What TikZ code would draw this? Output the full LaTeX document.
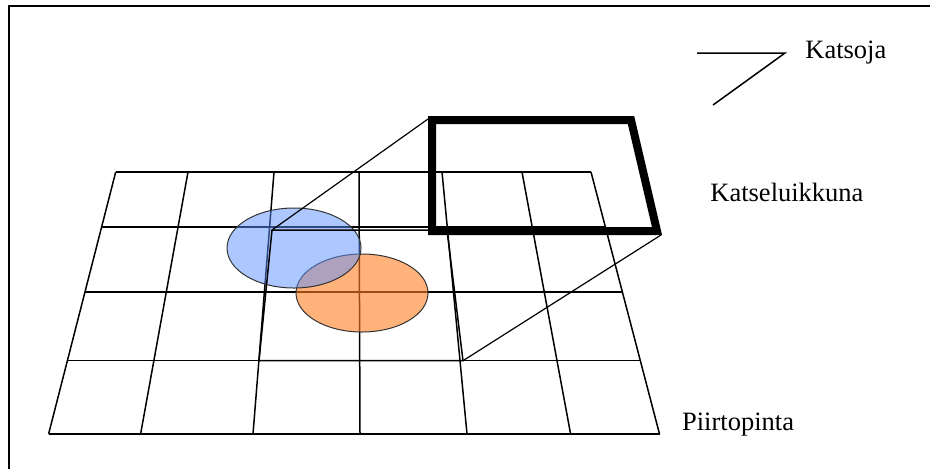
\documentclass[tikz,border=0pt]{standalone}
\usepackage{fontspec}
\setmainfont{Liberation Serif}
\usetikzlibrary{calc}
\definecolor{blob}{HTML}{5B91FF}
\definecolor{ember}{HTML}{FF7F21}

\begin{document}
\begin{tikzpicture}[
  x=0.5pt, y=-0.5pt,
  font=\fontsize{13.25}{16}\selectfont,
  frame/.style={line width=1pt},
  grid/.style={line width=0.75pt},
  win/.style={line width=4pt, miter limit=10},
  proj/.style={line width=0.6pt},
  lbl/.style={anchor=base west, inner sep=0pt},
  blobe/.style={fill=blob, fill opacity=0.5, draw=black!80, line width=0.5pt},
  embere/.style={fill=ember, fill opacity=0.6, draw=black!80, line width=0.5pt}
]
% --- page and frame (only left and top edges fall inside) ---
\useasboundingbox (0,0) rectangle (930,468);
\clip (0,0) rectangle (930,468);
\draw[frame] (8.5,5.7) rectangle (945,480);

% --- drawing surface: corners of the grid ---
\coordinate (TL) at (115.7,172);
\coordinate (TR) at (591,172);
\coordinate (BL) at (48.6,434);
\coordinate (BR) at (659.5,434);

% --- grid lines ---
\foreach \xt/\xb in {115.7/48.6, 188/140.6, 274/253, 359/360, 442/467,
                     522/570.6, 591/659.5}
  \draw[grid] (\xt,172) -- (\xb,434);
\foreach \t in {0, 0.21, 0.458, 0.72, 1}
  \draw[grid] ($(TL)!\t!(BL)$) -- ($(TR)!\t!(BR)$);

% --- shapes on the surface ---
\draw[embere] (362,293) ellipse [x radius=66, y radius=39];
\draw[blobe]  (294,248) ellipse [x radius=67, y radius=40];

% --- projected area on the surface ---
\coordinate (p1) at (272,230);
\coordinate (p2) at (447,230);
\coordinate (p3) at (463,360.7);
\coordinate (p4) at (259,360.7);
\draw[grid] (p1) -- (p2) -- (p3) -- (p4) -- cycle;

% --- viewing window ---
\coordinate (w1) at (432,120);
\coordinate (w2) at (631,120);
\coordinate (w3) at (657,231);
\coordinate (w4) at (432,231);
\draw[win] (w1) -- (w2) -- (w3) -- (w4) -- cycle;
\coordinate (wTL) at (428,119);
\coordinate (wBR) at (661,235);
\draw[proj] (wTL) -- (p1);
\draw[proj] (wBR) -- (p3);

% --- viewer ---
\coordinate (eye) at (785,53);
\draw[grid] (697,53) -- (eye) -- (713,105);

% --- labels ---
\node[lbl] (katsoja) at (805,58.3) {Katsoja};
\node[lbl] (ikkuna)  at (710,201)  {Katseluikkuna};
\node[lbl] (pinta)   at (681.7,430) {Piirtopinta};
\end{tikzpicture}
\end{document}
